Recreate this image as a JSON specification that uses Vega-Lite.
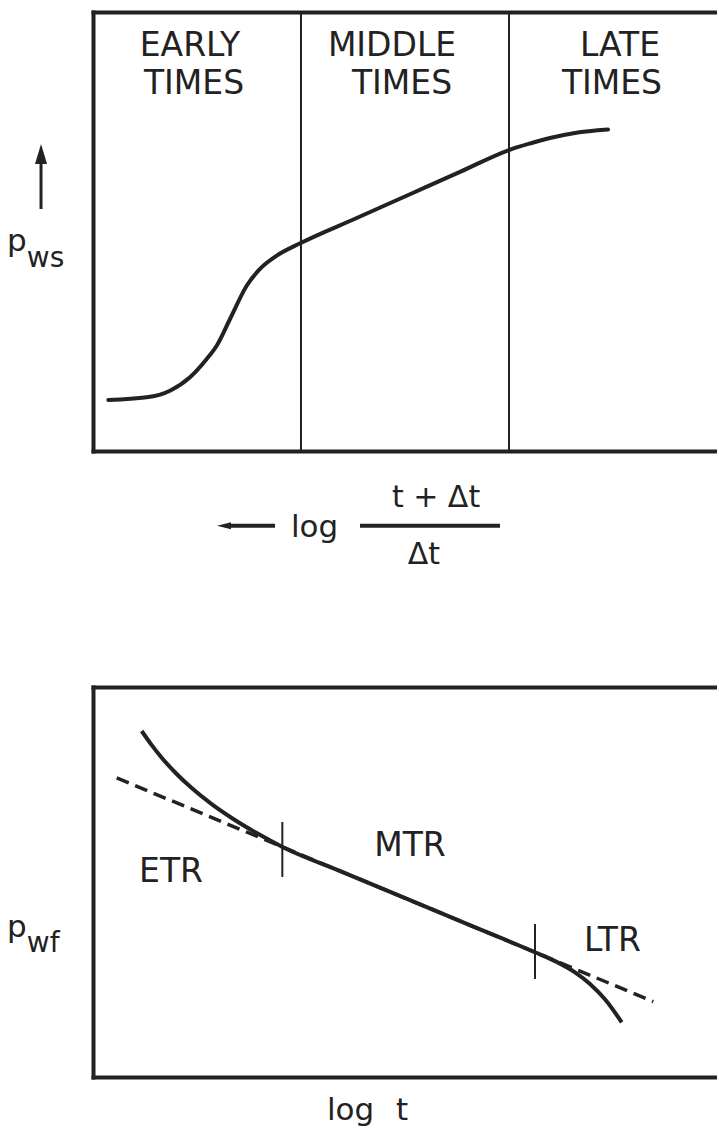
{
  "$schema": "https://vega.github.io/schema/vega-lite/v6.json",
  "padding": {"left": 7, "top": 11, "right": 0, "bottom": 0},
  "background": "white",
  "bounds": "flush",
  "spacing": 236,
  "config": {
    "view": {"stroke": null},
    "font": "DejaVu Sans",
    "axis": {"domainWidth": 4, "domainColor": "#222", "domainCap": "square", "ticks": false, "labels": false, "grid": false}
  },
  "vconcat": [
    {
      "width": 624,
      "height": 439,
      "resolve": {"axis": {"x": "independent", "y": "independent"}},
      "layer": [
        {
          "data": {"values": [
            {"x": 0.245, "y": 1.162}, {"x": 0.861, "y": 1.223}, {"x": 1.234, "y": 1.374},
            {"x": 1.554, "y": 1.679}, {"x": 1.822, "y": 2.096}, {"x": 1.982, "y": 2.399},
            {"x": 2.196, "y": 3.007}, {"x": 2.463, "y": 3.765}, {"x": 2.676, "y": 4.146},
            {"x": 2.944, "y": 4.449}, {"x": 3.329, "y": 4.738}, {"x": 4.2, "y": 5.291},
            {"x": 5.08, "y": 5.849}, {"x": 5.9, "y": 6.369},
            {"x": 6.667, "y": 6.856}, {"x": 7.003, "y": 7.005}, {"x": 7.324, "y": 7.13},
            {"x": 7.724, "y": 7.244}, {"x": 8.253, "y": 7.323}
          ]},
          "mark": {"type": "line", "color": "#222", "strokeWidth": 4, "interpolate": "monotone", "strokeCap": "round"},
          "encoding": {
            "x": {"field": "x", "type": "quantitative", "scale": {"domain": [0, 10]}, "axis": {"orient": "bottom", "title": null}},
            "y": {"field": "y", "type": "quantitative", "scale": {"domain": [0, 10]}, "axis": {"orient": "left", "title": null}}
          }
        },
        {
          "data": {"values": [{"x": 3.333}, {"x": 6.667}]},
          "mark": {"type": "rule", "color": "#222", "strokeWidth": 2},
          "encoding": {
            "x": {"field": "x", "type": "quantitative", "scale": {"domain": [0, 10]}, "axis": {"orient": "top", "title": null}}
          }
        },
        {
          "data": {"values": [
            {"x": 1.554, "y": 9.0, "label": "EARLY"}, {"x": 1.619, "y": 8.13, "label": "TIMES"},
            {"x": 4.792, "y": 9.0, "label": "MIDDLE"}, {"x": 4.952, "y": 8.13, "label": "TIMES"},
            {"x": 8.446, "y": 9.0, "label": "LATE"}, {"x": 8.317, "y": 8.13, "label": "TIMES"}
          ]},
          "mark": {"type": "text", "fontSize": 33, "align": "center", "baseline": "alphabetic", "color": "#222"},
          "encoding": {
            "x": {"field": "x", "type": "quantitative", "scale": {"domain": [0, 10]}, "axis": null},
            "y": {"field": "y", "type": "quantitative", "scale": {"domain": [0, 10]}, "axis": null},
            "text": {"field": "label"}
          }
        },
        {
          "data": {"values": [{"x": -1.378, "y": 4.55, "label": "p"}, {"x": 3.173, "y": -1.959, "label": "log"}]},
          "mark": {"type": "text", "fontSize": 31, "align": "left", "baseline": "alphabetic", "color": "#222"},
          "encoding": {
            "x": {"field": "x", "type": "quantitative", "scale": {"domain": [0, 10]}, "axis": null},
            "y": {"field": "y", "type": "quantitative", "scale": {"domain": [0, 10]}, "axis": null},
            "text": {"field": "label"}
          }
        },
        {
          "data": {"values": [{"x": -1.06, "y": 4.2, "label": "ws"}]},
          "mark": {"type": "text", "fontSize": 28, "align": "left", "baseline": "alphabetic", "color": "#222"},
          "encoding": {
            "x": {"field": "x", "type": "quantitative", "scale": {"domain": [0, 10]}, "axis": null},
            "y": {"field": "y", "type": "quantitative", "scale": {"domain": [0, 10]}, "axis": null},
            "text": {"field": "label"}
          }
        },
        {
          "data": {"values": [{"x": 5.497, "y": -1.276, "label": "t + Δt"}, {"x": 5.304, "y": -2.574, "label": "Δt"}]},
          "mark": {"type": "text", "fontSize": 30, "align": "center", "baseline": "alphabetic", "color": "#222"},
          "encoding": {
            "x": {"field": "x", "type": "quantitative", "scale": {"domain": [0, 10]}, "axis": null},
            "y": {"field": "y", "type": "quantitative", "scale": {"domain": [0, 10]}, "axis": null},
            "text": {"field": "label"}
          }
        },
        {
          "data": {"values": [{"x": -0.833, "y": 6.538, "y2": 5.513}]},
          "mark": {"type": "rule", "color": "#222", "strokeWidth": 3},
          "encoding": {
            "x": {"field": "x", "type": "quantitative", "scale": {"domain": [0, 10]}, "axis": null},
            "y": {"field": "y", "type": "quantitative", "scale": {"domain": [0, 10]}, "axis": null},
            "y2": {"field": "y2"}
          }
        },
        {
          "data": {"values": [{"x": 2.163, "x2": 2.917, "y": -1.7}, {"x": 4.279, "x2": 6.522, "y": -1.7}]},
          "mark": {"type": "rule", "color": "#222", "strokeWidth": 4},
          "encoding": {
            "x": {"field": "x", "type": "quantitative", "scale": {"domain": [0, 10]}, "axis": null},
            "x2": {"field": "x2"},
            "y": {"field": "y", "type": "quantitative", "scale": {"domain": [0, 10]}, "axis": null}
          }
        },
        {
          "data": {"values": [{"x": -0.833, "y": 6.765}]},
          "mark": {"type": "point", "filled": true, "color": "#222", "opacity": 1, "size": 400, "shape": "M0,-1L0.6,1L-0.6,1Z"},
          "encoding": {
            "x": {"field": "x", "type": "quantitative", "scale": {"domain": [0, 10]}, "axis": null},
            "y": {"field": "y", "type": "quantitative", "scale": {"domain": [0, 10]}, "axis": null}
          }
        },
        {
          "data": {"values": [{"x": 2.099, "y": -1.7}]},
          "mark": {"type": "point", "filled": true, "color": "#222", "opacity": 1, "size": 196, "shape": "M-1,0L1,-0.5L1,0.5Z"},
          "encoding": {
            "x": {"field": "x", "type": "quantitative", "scale": {"domain": [0, 10]}, "axis": null},
            "y": {"field": "y", "type": "quantitative", "scale": {"domain": [0, 10]}, "axis": null}
          }
        }
      ]
    },
    {
      "width": 624,
      "height": 390,
      "resolve": {"axis": {"x": "independent", "y": "independent"}},
      "layer": [
        {
          "data": {"values": [{"x": 0.38, "y": 7.67}, {"x": 8.979, "y": 1.933}]},
          "mark": {"type": "line", "color": "#222", "strokeWidth": 3.5, "strokeDash": [13, 7]},
          "encoding": {
            "x": {"field": "x", "type": "quantitative", "scale": {"domain": [0, 10]}, "axis": {"orient": "bottom", "title": null}},
            "y": {"field": "y", "type": "quantitative", "scale": {"domain": [0, 10]}, "axis": {"orient": "left", "title": null}}
          }
        },
        {
          "data": {"values": [
            {"x": 0.78, "y": 8.872}, {"x": 0.941, "y": 8.51}, {"x": 1.101, "y": 8.187},
            {"x": 1.341, "y": 7.769}, {"x": 1.582, "y": 7.408}, {"x": 1.902, "y": 6.995},
            {"x": 2.223, "y": 6.641}, {"x": 2.623, "y": 6.254}, {"x": 3.045, "y": 5.892},
            {"x": 4.0, "y": 5.255}, {"x": 5.08, "y": 4.534}, {"x": 6.0, "y": 3.921},
            {"x": 7.083, "y": 3.198}, {"x": 7.404, "y": 2.972},
            {"x": 7.724, "y": 2.685}, {"x": 7.965, "y": 2.387}, {"x": 8.205, "y": 1.992},
            {"x": 8.473, "y": 1.403}
          ]},
          "mark": {"type": "line", "color": "#222", "strokeWidth": 4, "interpolate": "monotone"},
          "encoding": {
            "x": {"field": "x", "type": "quantitative", "scale": {"domain": [0, 10]}, "axis": null},
            "y": {"field": "y", "type": "quantitative", "scale": {"domain": [0, 10]}, "axis": null}
          }
        },
        {
          "data": {"values": [{"x": 3.034, "y": 6.538, "y2": 5.128}, {"x": 7.083, "y": 3.923, "y2": 2.513}]},
          "mark": {"type": "rule", "color": "#222", "strokeWidth": 2},
          "encoding": {
            "x": {"field": "x", "type": "quantitative", "scale": {"domain": [0, 10]}, "axis": {"orient": "top", "title": null}},
            "y": {"field": "y", "type": "quantitative", "scale": {"domain": [0, 10]}, "axis": null},
            "y2": {"field": "y2"}
          }
        },
        {
          "data": {"values": [
            {"x": 1.25, "y": 5.0, "label": "ETR"}, {"x": 5.08, "y": 5.667, "label": "MTR"}, {"x": 8.325, "y": 3.231, "label": "LTR"}
          ]},
          "mark": {"type": "text", "fontSize": 33, "align": "center", "baseline": "alphabetic", "color": "#222"},
          "encoding": {
            "x": {"field": "x", "type": "quantitative", "scale": {"domain": [0, 10]}, "axis": null},
            "y": {"field": "y", "type": "quantitative", "scale": {"domain": [0, 10]}, "axis": null},
            "text": {"field": "label"}
          }
        },
        {
          "data": {"values": [{"x": -1.378, "y": 3.6, "label": "p"}, {"x": 3.75, "y": -1.1, "label": "log\u2002\u2009t"}]},
          "mark": {"type": "text", "fontSize": 31, "align": "left", "baseline": "alphabetic", "color": "#222"},
          "encoding": {
            "x": {"field": "x", "type": "quantitative", "scale": {"domain": [0, 10]}, "axis": null},
            "y": {"field": "y", "type": "quantitative", "scale": {"domain": [0, 10]}, "axis": null},
            "text": {"field": "label"}
          }
        },
        {
          "data": {"values": [{"x": -1.06, "y": 3.2, "label": "wf"}]},
          "mark": {"type": "text", "fontSize": 28, "align": "left", "baseline": "alphabetic", "color": "#222"},
          "encoding": {
            "x": {"field": "x", "type": "quantitative", "scale": {"domain": [0, 10]}, "axis": null},
            "y": {"field": "y", "type": "quantitative", "scale": {"domain": [0, 10]}, "axis": null},
            "text": {"field": "label"}
          }
        }
      ]
    }
  ]
}
